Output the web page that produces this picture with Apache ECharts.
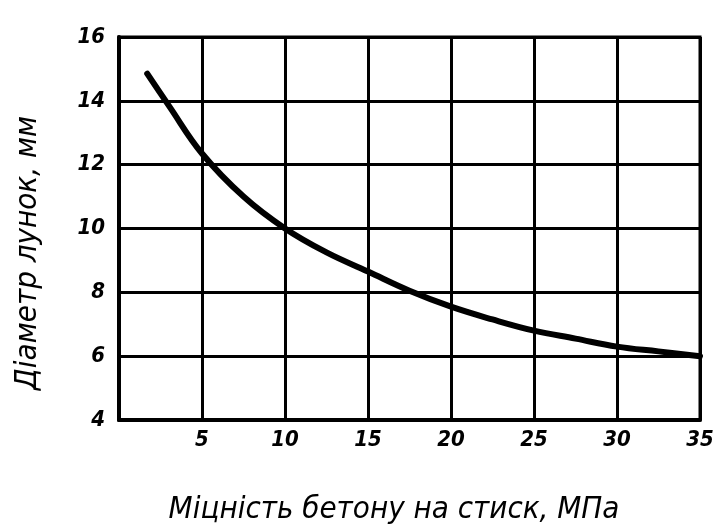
<!DOCTYPE html>
<html><head><meta charset="utf-8">
<script src="https://cdn.jsdelivr.net/npm/echarts@6/dist/echarts.min.js"></script>
<style>html,body{margin:0;padding:0;background:#fff}#c{width:725px;height:532px}</style>
</head><body><div id="c"></div>
<script>
const strength = [1.7, 3, 5, 7.5, 10, 12.5, 15, 17.5, 20, 22.5, 25, 27.5, 30, 32.5, 35];
const diameter = [14.85, 13.85, 12.35, 11.0, 10.0, 9.25, 8.65, 8.05, 7.55, 7.15, 6.8, 6.55, 6.3, 6.15, 6.0];
const xTitle = 'Міцність бетону на стиск, МПа';
const yTitle = 'Діаметр лунок, мм';

const chart = echarts.init(document.getElementById('c'));
const labelFont = {color:'#000', fontFamily:'DejaVu Sans Condensed', fontStyle:'italic', fontWeight:'bold', fontSize:22};
const titleFont = 'italic normal 31px "DejaVu Sans Condensed"';
chart.setOption({
  backgroundColor:'#fff',
  animation:false,
  grid:{left:119, right:25, top:37, bottom:112, show:true, borderColor:'#000', borderWidth:3},
  xAxis:{type:'value', min:0, max:35, interval:5,
    axisLine:{show:true, lineStyle:{color:'#000', width:4}},
    axisTick:{show:false},
    axisLabel:Object.assign({margin:9, formatter:v=> v===0 ? '' : String(v)}, labelFont),
    splitLine:{show:true, lineStyle:{color:'#000', width:3}}},
  yAxis:{type:'value', min:4, max:16, interval:2,
    axisLine:{show:true, lineStyle:{color:'#000', width:4}},
    axisTick:{show:false},
    axisLabel:Object.assign({margin:14}, labelFont),
    splitLine:{show:true, lineStyle:{color:'#000', width:3}}},
  graphic:[
    {type:'text', x:394, y:510, style:{text:xTitle, font:titleFont, fill:'#000', textAlign:'center', textVerticalAlign:'middle'}},
    {type:'text', x:28, y:253, rotation:Math.PI/2, style:{text:yTitle, font:titleFont, fill:'#000', textAlign:'center', textVerticalAlign:'middle'}}
  ],
  series:[{type:'line', smooth:0.4, symbol:'none',
    data: strength.map((x,i)=>[x, diameter[i]]),
    lineStyle:{color:'#000', width:6, cap:'round'}}]
});
</script></body></html>
